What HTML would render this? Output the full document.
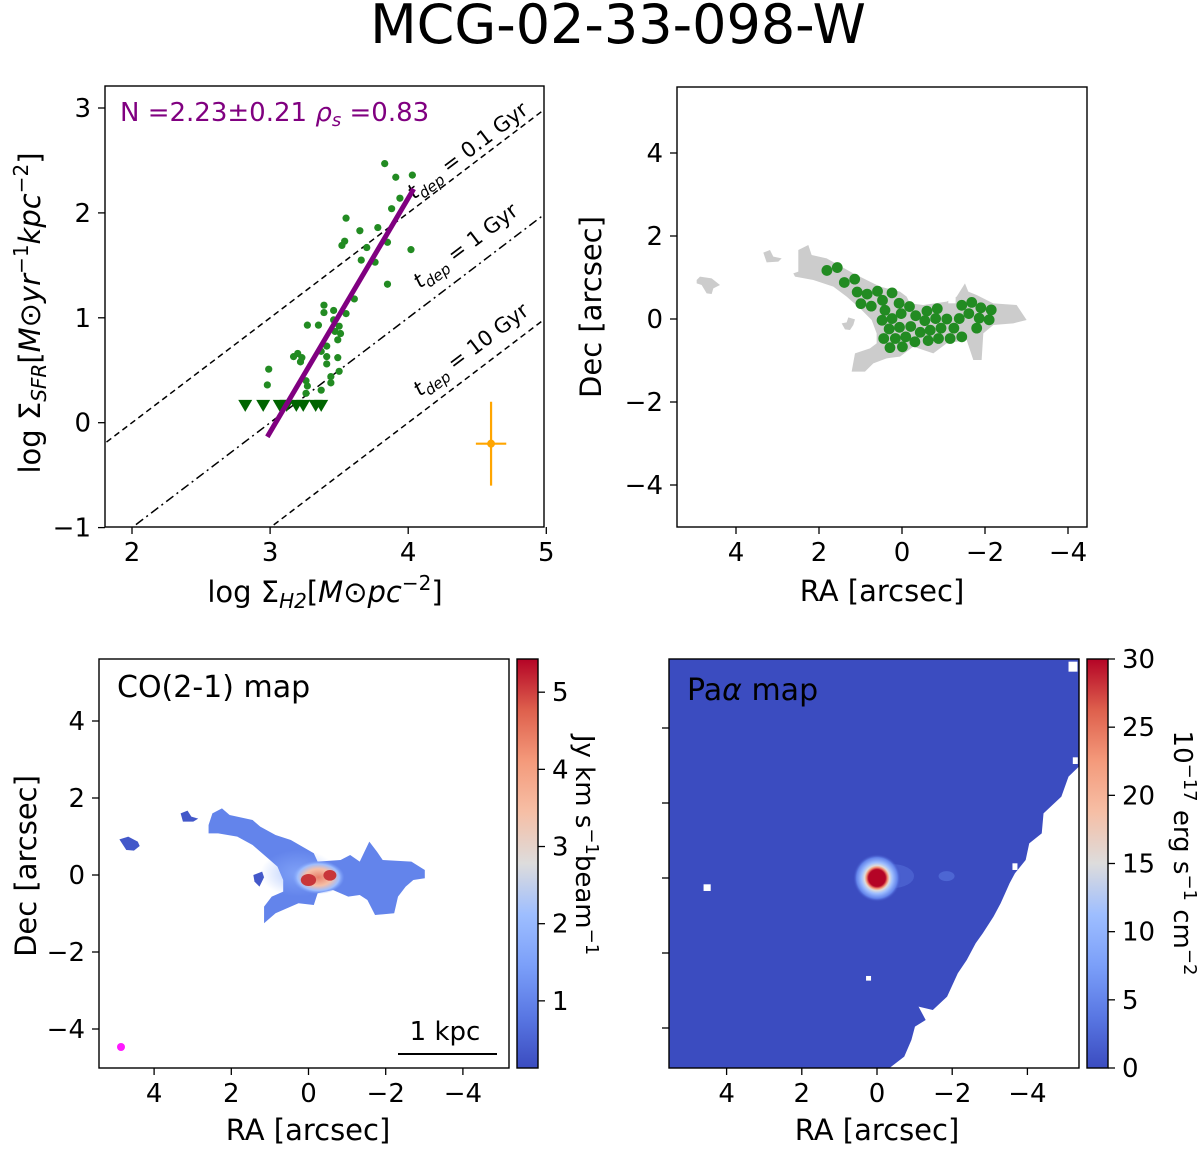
<!DOCTYPE html>
<html><head><meta charset="utf-8"><style>
html,body{margin:0;padding:0;background:#fff;}
svg text{font-family:"DejaVu Sans","Liberation Sans",sans-serif;}
</style></head><body>
<svg id="fig" width="1200" height="1148" viewBox="0 0 1200 1148" xmlns="http://www.w3.org/2000/svg">
<defs>
<linearGradient id="cw" x1="0" y1="1" x2="0" y2="0">
<stop offset="0" stop-color="#3b4cc0"/><stop offset="0.125" stop-color="#5977e3"/><stop offset="0.25" stop-color="#7b9ff9"/><stop offset="0.375" stop-color="#9ebeff"/><stop offset="0.5" stop-color="#dddcdc"/><stop offset="0.625" stop-color="#f6bfa6"/><stop offset="0.75" stop-color="#f49a7b"/><stop offset="0.875" stop-color="#de604d"/><stop offset="1" stop-color="#b40426"/>
</linearGradient>
<radialGradient id="paglow">
<stop offset="0" stop-color="#b40426"/><stop offset="0.35" stop-color="#b40426"/><stop offset="0.45" stop-color="#f49a7b"/><stop offset="0.52" stop-color="#dddcdc"/><stop offset="0.65" stop-color="#9ebeff"/><stop offset="0.85" stop-color="#6384eb"/><stop offset="1" stop-color="#3b4cc0" stop-opacity="0"/>
</radialGradient>
<radialGradient id="coglow">
<stop offset="0" stop-color="#e8806a"/><stop offset="0.5" stop-color="#f6bfa6"/><stop offset="0.8" stop-color="#9ebeff"/><stop offset="1" stop-color="#7b9ff9" stop-opacity="0"/>
</radialGradient>
<radialGradient id="cobody">
<stop offset="0" stop-color="#8caefc"/><stop offset="1" stop-color="#8caefc" stop-opacity="0"/>
</radialGradient>
<clipPath id="clip1"><rect x="105" y="86" width="439" height="441"/></clipPath>
</defs>
<text x="618" y="43" font-size="54" text-anchor="middle">MCG-02-33-098-W</text>
<g id="p1"></g>
<g id="p2"></g>
<g id="p3"></g>
<g id="p4"></g>
</svg>
<script>
// ---- Panel 1 data ----
const detX=[3.83,3.91,4.03,3.94,3.88,3.55,3.65,3.78,3.54,3.52,3.70,3.85,4.02,3.66,3.76,3.85,3.61,3.39,3.39,3.46,3.55,3.27,3.35,3.46,3.50,3.47,3.51,3.49,3.41,3.37,3.17,3.20,3.23,3.22,3.41,3.49,3.41,2.99,3.50,2.98,3.26,3.27,3.44,3.44,3.37,3.26];
const detY=[2.47,2.34,2.36,2.14,2.04,1.95,1.83,1.86,1.73,1.69,1.67,1.72,1.65,1.55,1.53,1.32,1.18,1.12,1.05,1.07,1.04,0.93,0.93,0.98,0.92,0.87,0.85,0.79,0.73,0.68,0.63,0.66,0.62,0.58,0.63,0.62,0.56,0.51,0.49,0.36,0.40,0.35,0.44,0.38,0.31,0.28];
const limX=[2.82,2.95,3.07,3.12,3.19,3.24,3.33,3.37];
const limY=[0.17,0.17,0.17,0.17,0.17,0.17,0.17,0.17];
const fitX=[2.98,4.04];
const fitSlope=[2.23];
const fitIntercept=[-6.78];
const depOffsets=[2,3,4];
const depLabels=["0.1 Gyr","1 Gyr","10 Gyr"];
const errX=[4.6], errY=[-0.2], errDX=[0.11], errDY=[0.4];
const p1XTicks=[2,3,4,5], p1YTicks=[-1,0,1,2,3];
// ---- Panel 2 data ----
const sampRA=[1.81,1.56,1.39,1.14,1.08,0.84,0.59,0.24,0.99,0.74,0.47,0.07,0.41,-0.18,0.02,0.48,0.24,-0.33,-0.60,-0.85,-0.55,-0.81,-1.08,-1.38,-1.44,-1.68,-1.90,-2.15,-1.61,-1.86,-2.10,0.31,0.06,-0.21,-0.44,-0.68,-0.94,-1.25,-1.80,0.44,0.16,-0.09,-0.31,-0.63,-0.88,-1.16,-1.44,0.29,-0.01];
const sampDec=[1.17,1.24,0.88,0.96,0.65,0.60,0.67,0.63,0.37,0.31,0.45,0.38,0.21,0.30,0.13,-0.03,0.01,0.08,0.19,0.25,-0.04,0.01,0.00,0.01,0.33,0.40,0.27,0.22,0.13,0.02,-0.02,-0.24,-0.20,-0.18,-0.32,-0.27,-0.22,-0.22,-0.22,-0.47,-0.47,-0.43,-0.55,-0.52,-0.47,-0.47,-0.43,-0.69,-0.67];
const mapTicks=[4,2,0,-2,-4];
// ---- Colorbar data ----
const coTicks=[1,2,3,4,5], coMin=[0.13], coMax=[5.43];
const paTicks=[0,5,10,15,20,25,30], paMin=[0], paMax=[30];

const NS="http://www.w3.org/2000/svg";
function mk(parent,tag,attrs,txt){const e=document.createElementNS(NS,tag);for(const k in attrs)e.setAttribute(k,attrs[k]);if(txt!==undefined)e.textContent=txt;parent.appendChild(e);return e;}

// ===== Panel 1 =====
const p1=document.getElementById('p1');
const x1=v=>132+(v-2)*138.1, y1=v=>422.7-v*104.9;
const g1=mk(p1,'g',{'clip-path':'url(#clip1)'});
depOffsets.forEach((o,i)=>{
  const l=mk(g1,'line',{x1:x1(1.7),y1:y1(1.7-o),x2:x1(5.2),y2:y1(5.2-o),stroke:'#000','stroke-width':1.5,'stroke-dasharray':i==1?'9,4,2,4':'6,4'});
  
  
});
const lblPos=[[414,200],[420,289],[420,397]];
depOffsets.forEach((o,i)=>{
  const t=mk(p1,'text',{x:lblPos[i][0],y:lblPos[i][1],'font-size':21,transform:`rotate(-37.2 ${lblPos[i][0]} ${lblPos[i][1]})`});
  
  
  t.innerHTML='<tspan font-style="italic">t</tspan><tspan font-size="15" dy="5" font-style="italic">dep</tspan><tspan dy="-5"> = '+depLabels[i]+'</tspan>';
});
detX.forEach((v,i)=>{
  const c=mk(p1,'circle',{cx:x1(v),cy:y1(detY[i]),r:3.6,fill:'#228b22'});
  
  
});
limX.forEach((v,i)=>{
  const cx=x1(v),cy=y1(limY[i]);
  const p=mk(p1,'polygon',{points:`${cx-7},${cy-5} ${cx+7},${cy-5} ${cx},${cy+7}`,fill:'#006400'});
  
  
});
const fl=mk(p1,'line',{x1:x1(fitX[0]),y1:y1(fitSlope[0]*fitX[0]+fitIntercept[0]),x2:x1(fitX[1]),y2:y1(fitSlope[0]*fitX[1]+fitIntercept[0]),stroke:'#800080','stroke-width':5});


const eg=mk(p1,'g',{stroke:'#ffa500','stroke-width':2.2});


mk(eg,'line',{x1:x1(errX[0]),y1:y1(errY[0]-errDY[0]),x2:x1(errX[0]),y2:y1(errY[0]+errDY[0])});
mk(eg,'line',{x1:x1(errX[0]-errDX[0]),y1:y1(errY[0]),x2:x1(errX[0]+errDX[0]),y2:y1(errY[0])});
mk(eg,'circle',{cx:x1(errX[0]),cy:y1(errY[0]),r:4,fill:'#ffa500',stroke:'none'});
function frame(parent,x,y,w,h,name){const r=mk(parent,'rect',{x:x,y:y,width:w,height:h,fill:'none',stroke:'#000','stroke-width':1.4});}
frame(p1,105,86,439,441,'ks-axes-frame');
p1XTicks.forEach(v=>{mk(p1,'line',{x1:x1(v),y1:527,x2:x1(v),y2:534,stroke:'#000','stroke-width':1.3});
  const t=mk(p1,'text',{x:x1(v),y:561,'font-size':26,'text-anchor':'middle'},String(v));});
p1YTicks.forEach(v=>{mk(p1,'line',{x1:98,y1:y1(v),x2:105,y2:y1(v),stroke:'#000','stroke-width':1.3});
  const t=mk(p1,'text',{x:91,y:y1(v)+9,'font-size':26,'text-anchor':'end'},String(v).replace('-','\u2212'));});
let t=mk(p1,'text',{x:120,y:121,'font-size':26,fill:'#800080'});
t.innerHTML='N =2.23±0.21 <tspan font-style="italic">ρ</tspan><tspan font-size="18" dy="5" font-style="italic">s</tspan><tspan dy="-5"> =0.83</tspan>';
t=mk(p1,'text',{x:325,y:602,'font-size':29,'text-anchor':'middle'});
t.innerHTML='log Σ<tspan font-size="20" dy="6" font-style="italic">H2</tspan><tspan dy="-6">[</tspan><tspan font-style="italic">M</tspan>⊙<tspan font-style="italic">pc</tspan><tspan font-size="20" dy="-12">−2</tspan><tspan dy="12">]</tspan>';
t=mk(p1,'text',{x:40,y:313,'font-size':29,'text-anchor':'middle',transform:'rotate(-90 40 313)'});
t.innerHTML='log Σ<tspan font-size="20" dy="6" font-style="italic">SFR</tspan><tspan dy="-6">[</tspan><tspan font-style="italic">M</tspan>⊙<tspan font-style="italic">yr</tspan><tspan font-size="20" dy="-12">−1</tspan><tspan dy="12" font-style="italic">kpc</tspan><tspan font-size="20" dy="-12">−2</tspan><tspan dy="12">]</tspan>';

// ===== Panel 2 =====
const p2=document.getElementById('p2');
const x2=v=>902-v*41.5, y2=v=>319-v*41.5;
const mg=mk(p2,'g',{transform:'translate(680 230) scale(0.3333)',fill:'#cccccc'});


mk(mg,'polygon',{points:'355,60 385,45 395,75 440,85 520,130 560,150 600,170 660,185 680,200 690,220 730,225 800,215 830,200 855,160 865,185 890,195 940,220 1010,225 1040,270 1000,280 940,285 910,310 905,390 880,390 860,330 800,340 760,370 700,350 660,380 620,385 580,400 555,425 515,425 525,370 570,355 590,340 590,310 575,270 540,235 500,200 460,170 400,150 345,140 340,130 355,125'});
mk(mg,'polygon',{points:'50,150 60,140 95,145 120,165 100,175 95,192 80,190 65,165 50,160'});
mk(mg,'polygon',{points:'250,68 270,60 280,80 305,85 295,95 260,97'});
mk(mg,'polygon',{points:'505,262 525,268 520,285 510,300 495,298 485,280 500,277'});
mk(mg,'rect',{x:805,y:200,width:22,height:20,fill:'#fff'});
sampRA.forEach((v,i)=>{const c=mk(p2,'circle',{cx:x2(v),cy:y2(sampDec[i]),r:5.4,fill:'#228b22'});
  
  });
frame(p2,677,87,410,440,'sampling-axes-frame');
function mapAxes(p,xf,yf,L,B,showY){
  mapTicks.forEach(v=>{mk(p,'line',{x1:xf(v),y1:B,x2:xf(v),y2:B+7,stroke:'#000','stroke-width':1.3});
    const t=mk(p,'text',{x:xf(v),y:B+34,'font-size':26,'text-anchor':'middle'},String(v).replace('-','\u2212'));
    mk(p,'line',{x1:L-7,y1:yf(v),x2:L,y2:yf(v),stroke:'#000','stroke-width':1.3});
    if(showY){const t2=mk(p,'text',{x:L-14,y:yf(v)+9,'font-size':26,'text-anchor':'end'},String(v).replace('-','\u2212'));}
  });
}
mapAxes(p2,x2,y2,677,527,true);
t=mk(p2,'text',{x:882,y:601,'font-size':29,'text-anchor':'middle'},'RA [arcsec]');
t=mk(p2,'text',{x:601,y:307,'font-size':29,'text-anchor':'middle',transform:'rotate(-90 601 307)'},'Dec [arcsec]');

// ===== Panel 3 =====
const p3=document.getElementById('p3');
const x3=v=>308.5-v*38.6, y3=v=>875-v*38.5;
const cg=mk(p3,'g',{transform:'translate(0 640) scale(0.3827 0.3333)',fill:'#5f7fe6'});


mk(cg,'polygon',{points:'555,520 580,505 600,525 660,540 680,560 720,585 760,600 790,620 820,640 830,665 890,660 915,645 940,665 965,605 985,635 1000,660 1075,665 1110,690 1110,715 1080,720 1060,740 1040,770 1030,820 980,825 960,780 940,765 910,770 870,750 830,760 820,795 780,790 720,820 690,850 690,800 710,770 740,755 740,720 725,680 700,655 660,615 620,590 570,580 545,580 545,555',fill:'#6384eb'});
mk(cg,'polygon',{points:'312,598 335,590 360,605 365,618 350,632 330,630',fill:'#4358c9'});
mk(cg,'polygon',{points:'472,520 490,512 500,530 518,536 505,545 478,545',fill:'#4358c9'});
mk(cg,'polygon',{points:'662,705 685,695 690,712 678,740 665,725',fill:'#4358c9'});
mk(cg,'ellipse',{cx:780,cy:700,rx:100,ry:70,fill:'url(#cobody)',opacity:0.7});
mk(cg,'ellipse',{cx:832,cy:712,rx:68,ry:50,fill:'url(#coglow)'});
mk(cg,'ellipse',{cx:806,cy:720,rx:20,ry:18,fill:'#c8363a'});
mk(cg,'ellipse',{cx:862,cy:706,rx:17,ry:16,fill:'#c8363a'});
const beam=mk(p3,'circle',{cx:121,cy:1047,r:4,fill:'#ff00ff',opacity:0.9});


frame(p3,99,659,410,409,'co-axes-frame');
mapAxes(p3,x3,y3,99,1068,true);
t=mk(p3,'text',{x:117,y:697,'font-size':30},'CO(2-1) map');
const sb=mk(p3,'line',{x1:398,y1:1054,x2:497,y2:1054,stroke:'#000','stroke-width':2});
t=mk(p3,'text',{x:445,y:1040,'font-size':26,'text-anchor':'middle'},'1 kpc');
t=mk(p3,'text',{x:308,y:1140,'font-size':29,'text-anchor':'middle'},'RA [arcsec]');
t=mk(p3,'text',{x:36,y:866,'font-size':29,'text-anchor':'middle',transform:'rotate(-90 36 866)'},'Dec [arcsec]');
function colorbar(p,x,w,top,bot,ticks,vmin,vmax,name){
  const r=mk(p,'rect',{x:x,y:top,width:w,height:bot-top,fill:'url(#cw)',stroke:'#000','stroke-width':1.4});
  
  const cy=v=>bot-(v-vmin)/(vmax-vmin)*(bot-top);
  ticks.forEach(v=>{mk(p,'line',{x1:x+w,y1:cy(v),x2:x+w+7,y2:cy(v),stroke:'#000','stroke-width':1.3});
    const t=mk(p,'text',{x:x+w+14,y:cy(v)+9,'font-size':26},String(v));});
}
colorbar(p3,517,21,659,1068,coTicks,coMin[0],coMax[0],'co-colorbar');
t=mk(p3,'text',{x:576,y:845,'font-size':26,'text-anchor':'middle',transform:'rotate(90 576 845)'});
t.innerHTML='Jy km s<tspan font-size="18" dy="-10">−1</tspan><tspan dy="10">beam</tspan><tspan font-size="18" dy="-10">−1</tspan>';

// ===== Panel 4 =====
const p4=document.getElementById('p4');
const x4=v=>877-v*37.6, y4=v=>878-v*37.5;
const bg=mk(p4,'rect',{x:669,y:659,width:410,height:409,fill:'#3b4cc0'});
const wg=mk(p4,'g',{transform:'translate(640 640) scale(0.3571 0.3333)',fill:'#fff'});


mk(wg,'polygon',{points:'1229,380 1200,410 1180,470 1130,520 1125,580 1090,610 1080,660 1050,700 1035,730 1010,790 990,830 960,880 940,910 915,960 890,1000 860,1070 820,1110 780,1100 800,1140 770,1160 760,1200 740,1250 700,1283 1229,1283'});
mk(wg,'rect',{x:1200,y:65,width:25,height:30});
mk(wg,'rect',{x:1212,y:352,width:14,height:20});
mk(wg,'rect',{x:1043,y:670,width:14,height:20});
mk(wg,'rect',{x:178,y:733,width:20,height:20});
mk(wg,'rect',{x:633,y:1008,width:14,height:14});
mk(p4,'ellipse',{cx:x4(-1.85),cy:y4(0.05),rx:8,ry:5,fill:'#5a78e0',opacity:0.6});
mk(p4,'ellipse',{cx:x4(-0.4),cy:y4(0.05),rx:22,ry:12,fill:'#5a78e0',opacity:0.45});
const src=mk(p4,'circle',{cx:x4(0),cy:y4(0),r:24,fill:'url(#paglow)'});
frame(p4,669,659,410,409,'paa-axes-frame');
mapAxes(p4,x4,y4,669,1068,false);
t=mk(p4,'text',{x:687,y:700,'font-size':30});
t.innerHTML='Pa<tspan font-style="italic">α</tspan> map';
t=mk(p4,'text',{x:877,y:1140,'font-size':29,'text-anchor':'middle'},'RA [arcsec]');
colorbar(p4,1087,21,659,1068,paTicks,paMin[0],paMax[0],'paa-colorbar');
t=mk(p4,'text',{x:1174,y:853,'font-size':26,'text-anchor':'middle',transform:'rotate(90 1174 853)'});
t.innerHTML='10<tspan font-size="18" dy="-10">−17</tspan><tspan dy="10"> erg s</tspan><tspan font-size="18" dy="-10">−1</tspan><tspan dy="10"> cm</tspan><tspan font-size="18" dy="-10">−2</tspan>';
</script>
</body></html>
